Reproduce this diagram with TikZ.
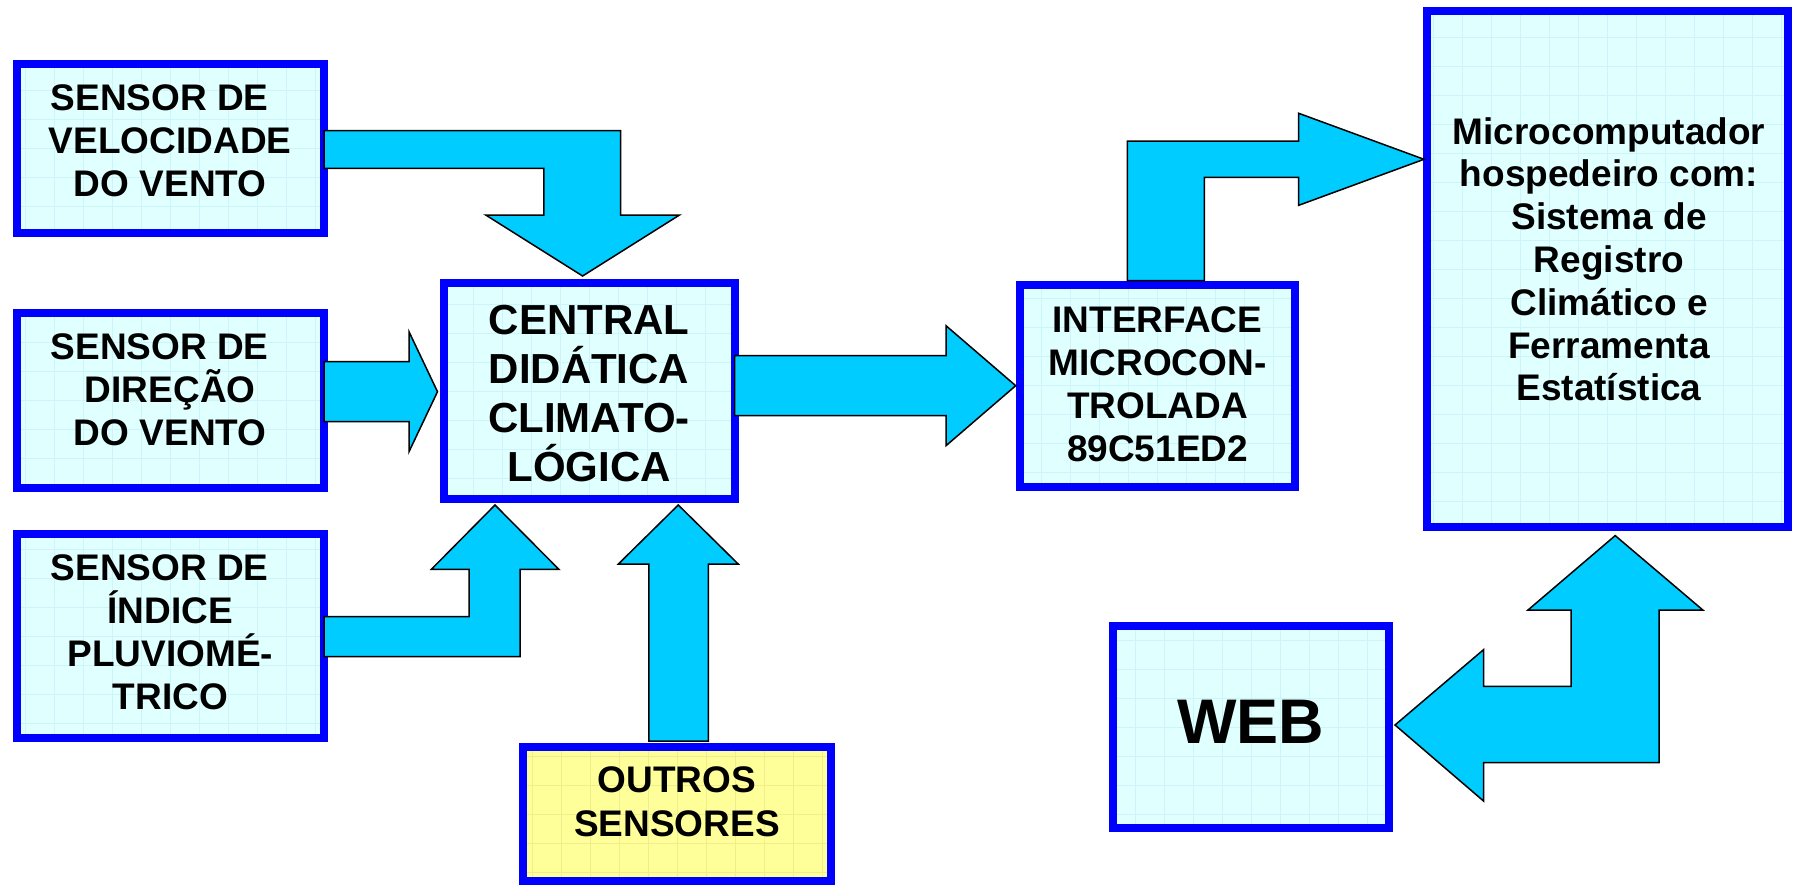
\documentclass[tikz,border=0pt]{standalone}
\usepackage{fontspec}
\setmainfont{Liberation Sans}
\usetikzlibrary{calc}
\definecolor{boxblue}{RGB}{0,0,255}
\definecolor{boxfill}{RGB}{224,255,255}
\definecolor{gridcyan}{RGB}{204,244,250}
\definecolor{yellowfill}{RGB}{255,255,153}
\definecolor{gridyellow}{RGB}{240,238,140}
\definecolor{arrowcyan}{RGB}{0,204,255}
\begin{document}
\begin{tikzpicture}[x=1pt,y=-1pt,
  blockbox/.style={draw=boxblue, line width=8pt, fill=boxfill, rectangle, inner sep=0pt, outer sep=0pt,
    path picture={\draw[gridcyan, line width=0.8pt] (path picture bounding box.south west) grid[step=29pt] (path picture bounding box.north east);}},
  yellowbox/.style={blockbox, fill=yellowfill,
    path picture={\draw[gridyellow, line width=0.8pt] (path picture bounding box.south west) grid[step=29pt] (path picture bounding box.north east);}},
  txt/.style={font=\bfseries\fontsize{37}{43}\selectfont, align=center, inner sep=0pt, anchor=north},
  blockarrow/.style={fill=arrowcyan, draw=black, line width=1.5pt, line join=miter}]
\useasboundingbox (0,0) rectangle (1794,886);

% boxes
\node[blockbox, minimum width=307.5pt, minimum height=169pt] (vel) at (170.25,148.5) {};
\node[blockbox, minimum width=307.5pt, minimum height=174.4pt] (dir) at (170.25,400.5) {};
\node[blockbox, minimum width=307.5pt, minimum height=204pt] (ind) at (170.25,636) {};
\node[blockbox, minimum width=290.5pt, minimum height=216pt] (cen) at (589.25,391) {};
\node[yellowbox, minimum width=308pt, minimum height=134pt] (out) at (677,814) {};
\node[blockbox, minimum width=275.6pt, minimum height=202pt] (int) at (1157.5,385.7) {};
\node[blockbox, minimum width=360.7pt, minimum height=516pt] (mic) at (1607.65,269) {};
\node[blockbox, minimum width=276pt, minimum height=202.6pt] (web) at (1251.3,727) {};

% texts
\node[txt] (velT) at (170.25,84.7) {SENSOR DE\hspace*{21pt}\\VELOCIDADE\hspace*{18pt}\\DO VENTO};
\node[txt] (dirT) at (170.25,333.7) {SENSOR DE\hspace*{21pt}\\DIREÇÃO\\DO VENTO};
\node[txt] (indT) at (170.25,554.7) {SENSOR DE\hspace*{21pt}\\ÍNDICE\\PLUVIOMÉ-\\TRICO};
\node[txt, font=\bfseries\fontsize{42}{49}\selectfont] (cenT) at (589,305.3) {CENTRAL\\DIDÁTICA\\CLIMATO-\\LÓGICA};
\node[txt, font=\bfseries\fontsize{37}{44}\selectfont] (outT) at (677,766.3) {OUTROS\\SENSORES};
\node[txt] (intT) at (1157.5,306) {INTERFACE\\MICROCON-\\TROLADA\\89C51ED2};
\node[txt, font=\bfseries\fontsize{37}{42.8}\selectfont] (micT) at (1609,117) {Microcomputador\\hospedeiro com:\\Sistema de\\Registro\\Climático e\\Ferramenta\\Estatística};
\node[font=\bfseries\fontsize{63}{70}\selectfont, inner sep=0pt, anchor=base] (webT) at (1250.5,743.3) {WEB};

% block arrows
% velocidade -> central
\draw[blockarrow] ($(vel.east)+(0,-17.8)$) -- (620.5,130.7) -- (620.5,215) -- (679.5,215)
  -- ($(cen.north)+(-6.65,-7)$) -- (485.7,215) -- (543.75,215) -- (543.75,168.3)
  -- ($(vel.east)+(0,19.8)$) -- cycle;
% direcao -> central
\draw[blockarrow] ($(dir.east)+(0,-38.8)$) -- (409,361.7) -- (409,331.7)
  -- ($(cen.west)+(-6.5,0.7)$) -- (409,451.7) -- (409,421.7)
  -- ($(dir.east)+(0,21.2)$) -- cycle;
% indice -> central
\draw[blockarrow] ($(ind.east)+(0,-19.3)$) -- (469,616.7) -- (469,569.3) -- (431.4,569.3)
  -- ($(cen.south)+(-94.25,6)$) -- (558.8,569.3) -- (520,569.3) -- (520,656.7)
  -- ($(ind.east)+(0,20.7)$) -- cycle;
% outros -> central
\draw[blockarrow] ($(out.north)+(-28.2,-6)$) -- (648.8,564) -- (618.4,564)
  -- ($(cen.south)+(89,6)$) -- (738.2,564) -- (708.4,564)
  -- ($(out.north)+(31.4,-6)$) -- cycle;
% central -> interface
\draw[blockarrow] ($(cen.east)+(0,-35.3)$) -- (946,355.7) -- (946,325.7)
  -- ($(int.west)+(-4,0)$) -- (946,445.7) -- (946,415.7)
  -- ($(cen.east)+(0,24.7)$) -- cycle;
% interface -> microcomputador
\draw[blockarrow] ($(int.north)+(-30.2,-4)$) -- (1127.3,141) -- (1298.7,141) -- (1298.7,113.3)
  -- ($(mic.west)+(-3.3,-109.7)$) -- (1298.7,205.3) -- (1298.7,177.3) -- (1204.3,177.3)
  -- ($(int.north)+(46.8,-4)$) -- cycle;
% microcomputador <-> web
\draw[blockarrow] ($(mic.south)+(7.55,8.6)$) -- (1702.8,610) -- (1659.2,610) -- (1659.2,762.7)
  -- (1483.5,762.7) -- (1483.5,801) -- ($(web.east)+(5.7,-2)$) -- (1483.5,649.7)
  -- (1483.5,686.4) -- (1571,686.4) -- (1571,610) -- (1528,610) -- cycle;
\end{tikzpicture}
\end{document}
